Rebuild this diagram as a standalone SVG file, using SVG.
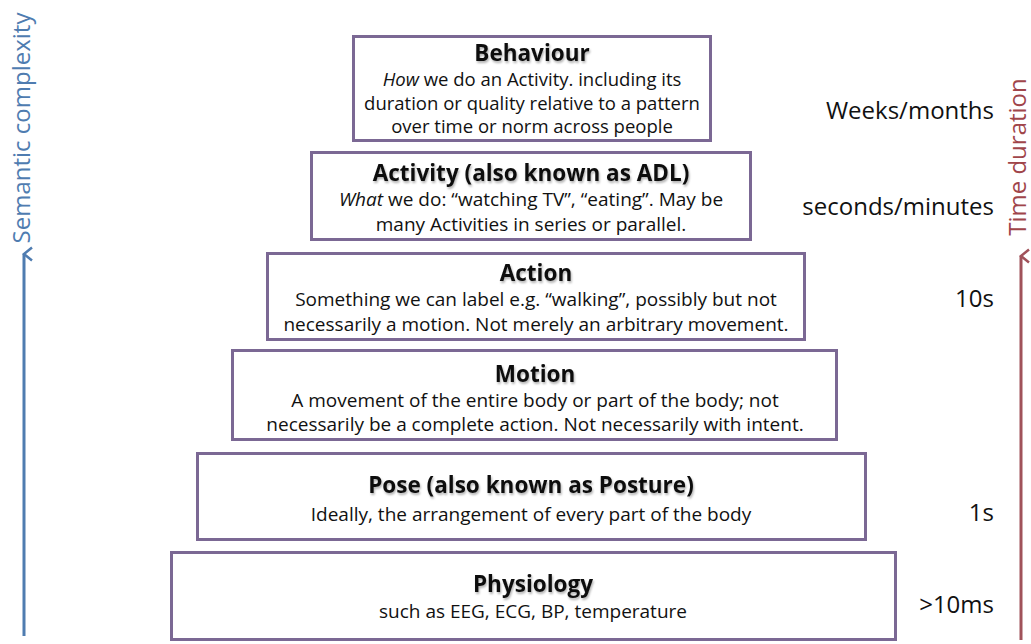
<svg xmlns="http://www.w3.org/2000/svg" width="1031" height="644" viewBox="0 0 1031 644">
<style>
.box{fill:#fff;stroke:#7b6894;stroke-width:3}
.t{font-family:"Open Sans","Liberation Sans",sans-serif;font-weight:bold;font-size:22.5px;fill:#111;text-anchor:middle}
.d{font-family:"Open Sans","Liberation Sans",sans-serif;font-size:19px;fill:#111;text-anchor:middle}
.s{font-size:18.5px}
.r{font-family:"Open Sans","Liberation Sans",sans-serif;font-size:24px;fill:#111;text-anchor:end}
.ax{font-family:"Open Sans","Liberation Sans",sans-serif;font-size:24px;text-anchor:middle}
</style>
<defs>
<filter id="sh" x="-5%" y="-20%" width="110%" height="150%"><feDropShadow dx="1" dy="2" stdDeviation="1" flood-color="#000" flood-opacity="0.3"/></filter>
<marker id="ab" viewBox="0 0 16 12" refX="8" refY="2" markerWidth="16" markerHeight="12" markerUnits="userSpaceOnUse" orient="auto-start-reverse"><path d="M1.5,10 L8,2 L14.5,10" fill="none" stroke="#4f7cb0" stroke-width="2.5"/></marker>
<marker id="ar" viewBox="0 0 16 12" refX="8" refY="2" markerWidth="16" markerHeight="12" markerUnits="userSpaceOnUse" orient="auto-start-reverse"><path d="M1.5,10 L8,2 L14.5,10" fill="none" stroke="#a0525a" stroke-width="2.5"/></marker>
</defs>
<rect width="1031" height="644" fill="#fff"/>
<g id="connectors">
<line x1="24" y1="636" x2="24" y2="254" stroke="#4f7cb0" stroke-width="3" marker-end="url(#ab)"/>
<line x1="1021" y1="640" x2="1021" y2="256" stroke="#a0525a" stroke-width="3" marker-end="url(#ar)"/>
</g>
<g id="axis-semantic"><text class="ax" fill="#4f7cb0" transform="translate(30,128) rotate(-90)">Semantic complexity</text></g>
<g id="axis-time"><text class="ax" fill="#a0454a" transform="translate(1026,157) rotate(-90)">Time duration</text></g>
<g id="behaviour">
<rect class="box" x="353.5" y="36.5" width="357" height="104"/>
<text class="t" x="532" y="60.5" filter="url(#sh)">Behaviour</text>
<text class="d s" x="532" y="86">
<tspan font-style="italic">How</tspan> we do an Activity. including its</text>
<text class="d s" x="532" y="109.5">duration  or quality relative to a pattern</text>
<text class="d s" x="532" y="133">over time or norm across people</text>
</g>
<g id="activity">
<rect class="box" x="311.5" y="152.5" width="439" height="87"/>
<text class="t" x="531" y="181" filter="url(#sh)">Activity (also known as ADL)</text>
<text class="d" x="531" y="206"><tspan font-style="italic">What</tspan> we do: “watching TV”, “eating”. May be</text>
<text class="d" x="531" y="231">many Activities  in series or parallel.</text>
</g>
<g id="action">
<rect class="box" x="267.5" y="253.5" width="537" height="86"/>
<text class="t" x="536" y="281" filter="url(#sh)">Action</text>
<text class="d" x="536" y="306">Something we can label  e.g. “walking”, possibly but not</text>
<text class="d" x="536" y="331">necessarily a motion. Not merely an arbitrary movement.</text>
</g>
<g id="motion">
<rect class="box" x="232.5" y="350.5" width="604" height="89"/>
<text class="t" x="535" y="382" filter="url(#sh)">Motion</text>
<text class="d" x="535" y="407">A movement of the entire body or part of the body; not</text>
<text class="d" x="535" y="431">necessarily be a complete action. Not necessarily with intent.</text>
</g>
<g id="pose">
<rect class="box" x="197.5" y="453.5" width="668" height="86"/>
<text class="t" x="531" y="493" filter="url(#sh)">Pose (also known as Posture)</text>
<text class="d" x="531" y="521">Ideally, the arrangement of every part of the body</text>
</g>
<g id="physiology">
<rect class="box" x="171.5" y="552.5" width="724" height="87"/>
<text class="t" x="533" y="592" filter="url(#sh)">Physiology</text>
<text class="d" x="533" y="618">such as EEG, ECG, BP, temperature</text>
</g>
<g id="durations">
<text class="r" x="994" y="119">Weeks/months</text>
<text class="r" x="994" y="215">seconds/minutes</text>
<text class="r" x="994" y="307">10s</text>
<text class="r" x="994" y="521">1s</text>
<text class="r" x="994" y="613">&gt;10ms</text>
</g>
</svg>
